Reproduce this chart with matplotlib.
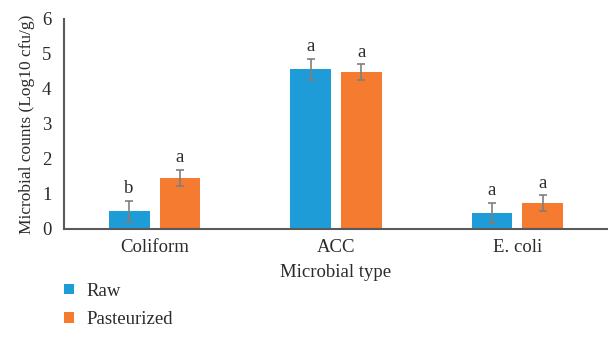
import matplotlib.pyplot as plt
import numpy as np

plt.rcParams["font.family"] = ["Liberation Serif", "DejaVu Serif"]

categories = ["Coliform", "ACC", "E. coli"]
raw = [0.51, 4.56, 0.46]
raw_err = [0.30, 0.31, 0.29]
raw_letters = ["b", "a", "a"]
past = [1.46, 4.49, 0.74]
past_err = [0.23, 0.22, 0.22]
past_letters = ["a", "a", "a"]

blue = "#1E9CD7"
orange = "#F47B2F"
axis_col = "#5a5a5a"
txt = "#2b2b2b"

fig = plt.figure(figsize=(6.08, 3.51), dpi=100)
ax = fig.add_axes([0.105, 0.3476, 0.895, 0.5983])

x = np.arange(len(categories))
w = 0.225
off = 0.14

b1 = ax.bar(x - off, raw, w, color=blue, label="Raw")
b2 = ax.bar(x + off, past, w, color=orange, label="Pasteurized")
ekw = dict(fmt="none", ecolor="#7f7f7f", elinewidth=1.2, capsize=3, capthick=1.2)
ax.errorbar(x - off, raw, yerr=raw_err, **ekw)
ax.errorbar(x + off, past, yerr=past_err, **ekw)

for xi, v, e, t in zip(x - off, raw, raw_err, raw_letters):
    ax.text(xi, v + e + 0.1, t, ha="center", va="bottom", fontsize=13.5, color=txt)
for xi, v, e, t in zip(x + off, past, past_err, past_letters):
    ax.text(xi, v + e + 0.1, t, ha="center", va="bottom", fontsize=13.5, color=txt)

ax.set_xlim(-0.5, 2.5)
ax.set_ylim(0, 6)
ax.set_yticks(range(7))
ax.set_xticks(x)
ax.set_xticklabels(categories)
ax.tick_params(axis="both", length=0, labelsize=13.5, colors=txt)
ax.tick_params(axis="x", pad=7)
ax.tick_params(axis="y", pad=9)

for s in ["top", "right"]:
    ax.spines[s].set_visible(False)
ax.spines["left"].set_color(axis_col)
ax.spines["bottom"].set_color(axis_col)
ax.spines["left"].set_linewidth(1.5)
ax.spines["bottom"].set_linewidth(1.5)

ax.set_xlabel("Microbial type", fontsize=13.5, color=txt, labelpad=6)
ax.set_ylabel("Microbial counts (Log10 cfu/g)", fontsize=12.5, color=txt, labelpad=5)

# legend sits under the plot, left aligned with the y axis
fig.legend(handles=[b1, b2], loc="upper left", bbox_to_anchor=(0.078, 0.243),
           frameon=False, fontsize=13.5, handlelength=0.5, handleheight=0.5,
           handletextpad=0.7, labelspacing=0.6, labelcolor=txt)

fig.savefig("out.png", dpi=100)
